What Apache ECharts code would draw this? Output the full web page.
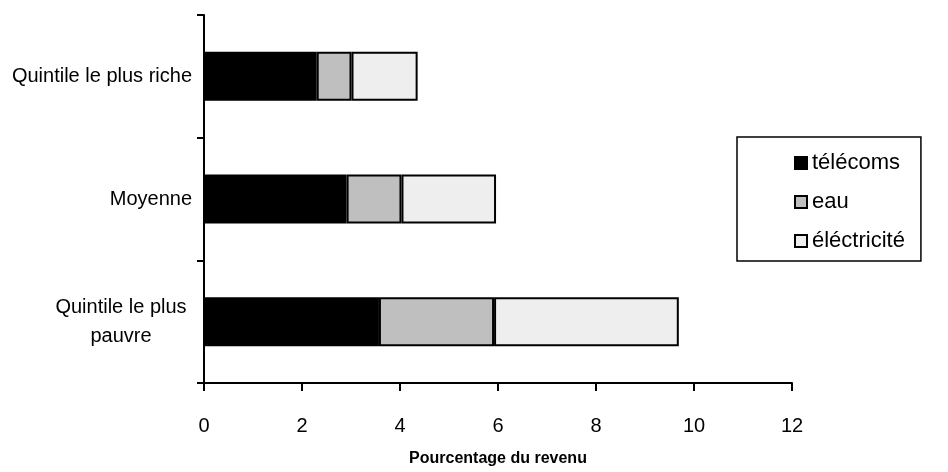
<!DOCTYPE html>
<html>
<head>
<meta charset="utf-8">
<script src="https://cdn.jsdelivr.net/npm/echarts@6/dist/echarts.min.js"></script>
<style>
  html, body { margin: 0; padding: 0; background: #fff; }
  #chart { width: 948px; height: 472px; }
</style>
</head>
<body>
<div id="chart"></div>
<script>
// Income groups, bottom to top
const categories = ['Quintile le plus pauvre', 'Moyenne', 'Quintile le plus riche'];
// Share of income spent on each utility (%)
const telecoms = [3.57, 2.91, 2.30];
const eau = [2.35, 1.12, 0.71];
const electricite = [3.77, 1.93, 1.35];
const xTicks = [0, 2, 4, 6, 8, 10, 12];

const seriesNames = ['télécoms', 'eau', 'éléctricité'];
const seriesData = [telecoms, eau, electricite];
const seriesColors = ['#000000', '#bfbfbf', '#eeeeee'];

const FONT = '"Liberation Sans", Arial, sans-serif';

const chart = echarts.init(document.getElementById('chart'), null, { renderer: 'canvas' });

chart.setOption({
  animation: false,
  backgroundColor: '#ffffff',
  textStyle: { fontFamily: FONT, color: '#000' },
  grid: { left: 204, right: 156, top: 15, bottom: 87, containLabel: false },
  legend: {
    orient: 'vertical',
    left: 737,
    top: 137,
    padding: [15, 16, 9, 57],
    itemGap: 17,
    itemWidth: 12,
    itemHeight: 12,
    icon: 'rect',
    borderColor: '#000',
    borderWidth: 1.5,
    backgroundColor: '#fff',
    textStyle: { fontFamily: FONT, fontSize: 22, lineHeight: 22, color: '#000' },
    data: seriesNames
  },
  xAxis: {
    type: 'value',
    min: xTicks[0],
    max: xTicks[xTicks.length - 1],
    interval: 2,
    name: 'Pourcentage du revenu',
    nameLocation: 'middle',
    nameGap: 68,
    nameTextStyle: { fontFamily: FONT, fontSize: 16, fontWeight: 'bold', color: '#000' },
    axisLine: { show: true, lineStyle: { color: '#000', width: 2 } },
    axisTick: { show: true, inside: false, length: 8, lineStyle: { color: '#000', width: 2 } },
    axisLabel: { fontFamily: FONT, fontSize: 20, color: '#000', margin: 33 },
    splitLine: { show: false }
  },
  yAxis: {
    type: 'category',
    data: categories,
    boundaryGap: true,
    axisLine: { show: true, lineStyle: { color: '#000', width: 2 } },
    axisTick: { show: true, inside: false, length: 7, lineStyle: { color: '#000', width: 2 } },
    axisLabel: {
      fontFamily: FONT,
      fontSize: 20,
      color: '#000',
      margin: 12,
      formatter: function (v) {
        if (v === 'Quintile le plus pauvre') return '{c|Quintile le plus}\n{c|pauvre}';
        return v;
      },
      rich: {
        c: { fontFamily: FONT, fontSize: 20, color: '#000', width: 142, align: 'center', lineHeight: 29 }
      }
    }
  },
  series: seriesNames.map(function (name, i) {
    return {
      name: name,
      type: 'bar',
      stack: 'total',
      barWidth: '40%',
      data: seriesData[i],
      itemStyle: { color: seriesColors[i], borderColor: '#000', borderWidth: 2 },
      emphasis: { disabled: true }
    };
  })
});
</script>
</body>
</html>
